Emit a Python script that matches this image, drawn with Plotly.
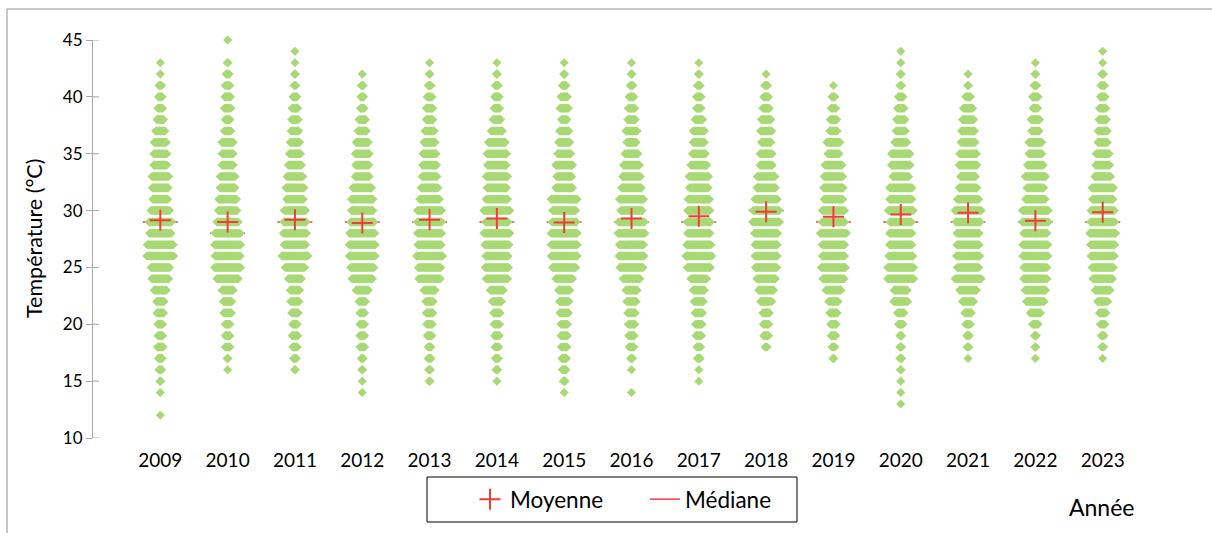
import plotly.graph_objects as go

# Daily maximum temperatures, one column per year
years = [2009, 2010, 2011, 2012, 2013, 2014, 2015, 2016, 2017, 2018, 2019, 2020, 2021, 2022, 2023]

# Lowest temperature (°C) of each year; the day counts below start at this value, 1 °C steps
temp_low = [12, 16, 16, 14, 15, 15, 14, 14, 15, 18, 17, 13, 17, 17, 17]

days_2009 = [1, 0, 1, 2, 4, 5, 7, 6, 6, 8, 9, 14, 19, 21, 30, 29, 24, 25, 21, 17, 18, 19, 15, 15, 14, 11, 8, 6, 5, 4, 1, 1]
days_2010 = [1, 2, 6, 6, 6, 9, 10, 13, 24, 29, 28, 29, 28, 24, 21, 20, 17, 17, 13, 13, 13, 8, 6, 8, 7, 6, 4, 2, 0, 1]
days_2011 = [2, 4, 6, 7, 6, 8, 10, 11, 15, 22, 29, 24, 26, 25, 24, 19, 20, 18, 15, 13, 11, 9, 8, 7, 5, 3, 2, 1, 1]
days_2012 = [1, 1, 2, 3, 6, 6, 6, 6, 8, 14, 23, 26, 29, 29, 28, 26, 24, 24, 21, 16, 15, 16, 14, 10, 8, 5, 4, 3, 1]
days_2013 = [2, 3, 4, 4, 6, 7, 8, 9, 13, 24, 25, 29, 26, 27, 27, 27, 22, 19, 17, 16, 15, 13, 11, 8, 8, 6, 4, 2, 1]
days_2014 = [1, 3, 4, 5, 6, 7, 8, 11, 15, 24, 26, 25, 27, 29, 25, 29, 24, 22, 24, 21, 22, 19, 13, 9, 7, 6, 4, 2, 1]
days_2015 = [1, 3, 5, 6, 7, 8, 8, 10, 11, 13, 19, 26, 29, 29, 29, 27, 26, 29, 19, 17, 19, 15, 13, 11, 7, 10, 8, 5, 2, 1]
days_2016 = [1, 0, 1, 3, 6, 7, 8, 9, 11, 13, 19, 26, 28, 27, 30, 29, 24, 27, 22, 20, 18, 15, 11, 13, 9, 8, 6, 4, 2, 1]
days_2017 = [1, 1, 4, 5, 7, 8, 9, 11, 13, 18, 26, 29, 27, 25, 26, 25, 24, 21, 22, 18, 15, 13, 13, 9, 6, 6, 4, 2, 1]
days_2018 = [3, 6, 7, 8, 13, 17, 21, 24, 25, 25, 26, 30, 29, 25, 21, 20, 14, 14, 11, 13, 11, 8, 6, 4, 1]
days_2019 = [2, 4, 6, 7, 9, 11, 17, 24, 27, 25, 25, 29, 25, 25, 21, 22, 21, 19, 13, 15, 9, 8, 6, 4, 1]
days_2020 = [1, 1, 1, 2, 3, 3, 3, 6, 8, 16, 15, 29, 29, 27, 25, 25, 24, 28, 25, 25, 18, 21, 21, 14, 11, 10, 8, 6, 3, 2, 1, 1]
days_2021 = [1, 3, 4, 6, 8, 13, 19, 29, 24, 26, 25, 25, 27, 29, 24, 20, 17, 20, 19, 16, 15, 13, 11, 6, 2, 1]
days_2022 = [1, 2, 3, 7, 12, 20, 23, 26, 26, 28, 28, 26, 29, 29, 22, 19, 23, 18, 15, 15, 9, 10, 6, 7, 4, 2, 1]
days_2023 = [1, 3, 4, 6, 8, 12, 17, 22, 24, 26, 27, 29, 27, 26, 23, 24, 18, 16, 15, 11, 11, 9, 8, 6, 5, 3, 1, 1]

mean_temp = [29.15, 29.0, 29.2, 28.9, 29.2, 29.3, 28.95, 29.3, 29.5, 29.9, 29.45, 29.65, 29.8, 29.1, 29.85]
median_temp = [29, 28, 29, 29, 29, 29, 29, 29, 29, 30, 29, 29, 29, 29, 29]

y_ticks = [10, 15, 20, 25, 30, 35, 40, 45]

day_counts = [days_2009, days_2010, days_2011, days_2012, days_2013, days_2014, days_2015,
              days_2016, days_2017, days_2018, days_2019, days_2020, days_2021, days_2022, days_2023]

GREEN = "#A8D975"
RED = "#F43B3B"
AXIS = "#A6A6A6"
FONT = "Lato"

# horizontal spacing between stacked days of the same temperature (in years)
STEP = 0.0138
MEDIAN_HALF = 0.26

# swarm points: one diamond per day, spread sideways around the year
sx, sy = [], []
for yr, low, counts in zip(years, temp_low, day_counts):
    for j, n in enumerate(counts):
        t = low + j
        for k in range(n):
            sx.append(yr + (k - (n - 1) / 2) * STEP)
            sy.append(t)

# median segments
mx, my = [], []
for yr, m in zip(years, median_temp):
    mx += [yr - MEDIAN_HALF, yr + MEDIAN_HALF, None]
    my += [m, m, None]

fig = go.Figure()
fig.add_trace(go.Scatter(
    x=mx, y=my, mode="lines", name="Médiane", cliponaxis=False,
    line=dict(color=RED, width=1.5), legendrank=2, hoverinfo="skip"))
fig.add_trace(go.Scatter(
    x=sx, y=sy, mode="markers", showlegend=False, cliponaxis=False,
    marker=dict(symbol="diamond", size=7, color=GREEN, line=dict(width=0))))
fig.add_trace(go.Scatter(
    x=years, y=mean_temp, mode="markers", name="Moyenne", legendrank=1, cliponaxis=False,
    marker=dict(symbol="cross-thin", size=15, color=RED, line=dict(width=2, color=RED))))

L, R, T, B = 93, 42, 40, 95
W, H = 1212, 533
pw, ph = W - L - R, H - T - B


def px_x(p):
    return (p - L) / pw


def px_y(p):
    return (H - B - p) / ph


shapes = []
# inner half of the crossing tick marks
for v in y_ticks:
    shapes.append(dict(type="line", xref="paper", yref="y", x0=0, x1=px_x(L + 6),
                       y0=v, y1=v, line=dict(color=AXIS, width=1)))
# legend frame
shapes.append(dict(type="rect", xref="paper", yref="paper",
                   x0=px_x(427), x1=px_x(797), y0=px_y(522), y1=px_y(477),
                   line=dict(color="black", width=1), fillcolor="rgba(0,0,0,0)"))
# chart area frame
shapes.append(dict(type="line", xref="paper", yref="paper",
                   x0=px_x(7), x1=px_x(1215), y0=px_y(9), y1=px_y(9),
                   line=dict(color="#B4B4B4", width=1.5)))
shapes.append(dict(type="line", xref="paper", yref="paper",
                   x0=px_x(7), x1=px_x(7), y0=px_y(9), y1=px_y(540),
                   line=dict(color="#B4B4B4", width=1.5)))

fig.update_layout(
    width=W, height=H,
    margin=dict(l=L, r=R, t=T, b=B),
    paper_bgcolor="white", plot_bgcolor="white",
    font=dict(family=FONT, color="black"),
    showlegend=True,
    legend=dict(orientation="h", x=px_x(470), xanchor="left", y=px_y(499.5), yanchor="middle",
                bgcolor="rgba(0,0,0,0)", borderwidth=0, font=dict(size=22.5, family=FONT),
                entrywidth=130, entrywidthmode="pixels", traceorder="normal"),
    xaxis=dict(range=[2008, 2024], tickmode="array", tickvals=years,
               ticktext=[str(y) for y in years], showline=False, showgrid=False,
               zeroline=False, ticks="", tickfont=dict(size=19), ticklabelstandoff=9),
    yaxis=dict(range=[10, 45], tickmode="array", tickvals=y_ticks, showline=True,
               linecolor=AXIS, linewidth=1, ticks="outside", ticklen=6, tickcolor=AXIS,
               showgrid=False, zeroline=False, tickfont=dict(size=17)),
    shapes=shapes,
    annotations=[
        dict(text="Température (°C)", xref="paper", yref="paper", x=px_x(34), y=0.5,
             textangle=-90, showarrow=False, font=dict(size=21.5), xanchor="center", yanchor="middle"),
        dict(text="Année", xref="paper", yref="paper", x=px_x(1101), y=px_y(507),
             showarrow=False, font=dict(size=23), xanchor="center", yanchor="middle"),
    ],
)

fig.write_html("out.html")
